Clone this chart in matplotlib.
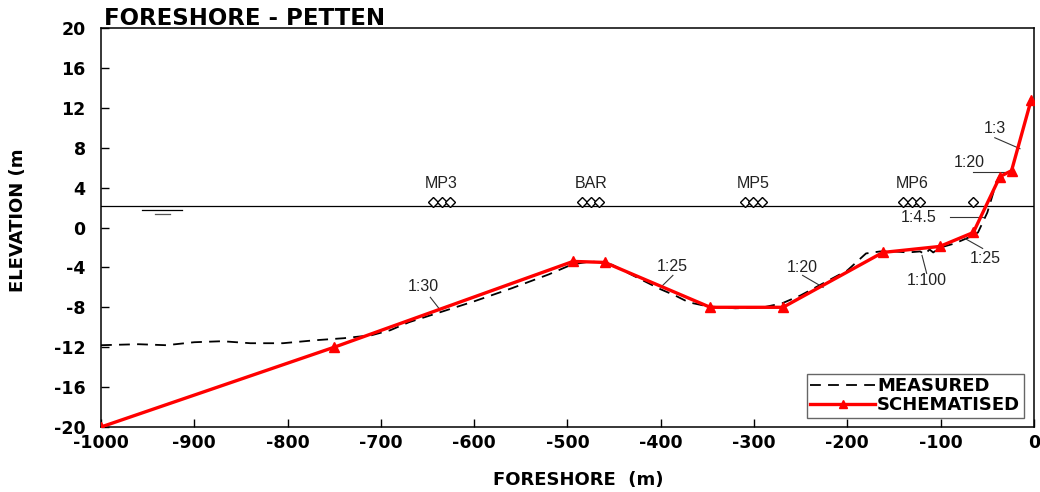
import matplotlib
matplotlib.use("Agg")
import matplotlib.pyplot as plt
from matplotlib.lines import Line2D

plt.rcParams["axes.unicode_minus"] = False

# Schematised foreshore profile (distance m, elevation m)
schem_x = [-1000, -750, -494, -460, -347, -269, -162, -101, -65, -36.5, -24, -3]
schem_y = [-20.0, -12.0, -3.4, -3.5, -8.0, -8.0, -2.5, -1.9, -0.5, 5.1, 5.7, 12.8]

# Measured bed profile
meas_x = [-1000, -960, -930, -900, -870, -840, -805, -770, -740, -710, -690, -670,
          -640, -600, -560, -520, -495, -475, -455, -430, -400, -385, -370, -350,
          -320, -290, -270, -250, -230, -200, -180, -165, -150, -135, -122, -117,
          -112, -108, -100, -85, -70, -60, -50, -40, -32, -25]
meas_y = [-11.8, -11.7, -11.8, -11.5, -11.4, -11.6, -11.6, -11.3, -11.1, -10.8, -10.3, -9.5,
          -8.6, -7.4, -6.1, -4.7, -3.7, -3.4, -3.6, -4.8, -6.2, -6.8, -7.5, -7.9,
          -8.1, -8.0, -7.6, -6.8, -5.8, -4.3, -2.6, -2.4, -2.4, -2.5, -2.4, -2.7,
          -2.2, -2.5, -2.0, -1.6, -1.0, -0.5, 1.5, 4.6, 5.1, 5.5]

# Still water level
swl = 2.2

# Measurement positions
station_names = ["MP3", "BAR", "MP5", "MP6"]
station_x = [[-644, -635, -626], [-484, -475, -466], [-310, -301, -292], [-140, -131, -122]]
single_x = -65.5

# Slope annotations: label, text position, leader line
slope_labels = ["1:30", "1:25", "1:20", "1:100", "1:25", "1:4.5", "1:20", "1:3"]
slope_text = [(-655, -5.9), (-388, -3.9), (-248, -4.0), (-115, -5.3),
              (-52, -3.1), (-124, 1.0), (-69, 6.5), (-42, 9.9)]
slope_lead = [((-647, -637), (-7.0, -8.2)), ((-387, -399), (-4.8, -5.9)),
              ((-248, -226), (-4.8, -6.0)), ((-115, -120), (-4.6, -2.8)),
              ((-55, -74), (-2.1, -1.1)), ((-90, -55), (1.05, 1.05)),
              ((-65.5, -29), (5.6, 5.6)), ((-42, -15), (9.0, 7.9))]

x_ticks = list(range(-1000, 1, 100))
y_ticks = list(range(-20, 21, 4))

fig = plt.figure(figsize=(10.4, 4.92), dpi=100)
ax = fig.add_axes([0.0971, 0.1321, 0.8971, 0.811])

ax.plot(meas_x, meas_y, color="black", lw=1.3, dashes=(6, 4), zorder=3)
ax.plot(schem_x, schem_y, color="#ff0000", lw=2.4, marker="^", ms=7,
        markeredgecolor="#ff0000", zorder=4)

ax.axhline(swl, color="black", lw=0.9, zorder=2)
ax.plot([-956, -913], [1.75, 1.75], color="black", lw=0.9)
ax.plot([-942, -926], [1.35, 1.35], color="#555555", lw=0.9)

for name, xs in zip(station_names, station_x):
    ax.plot(xs, [2.55] * len(xs), ls="none", marker="D", ms=5.5,
            markerfacecolor="white", markeredgecolor="black", mew=1.0, zorder=5)
    ax.text(sum(xs) / len(xs), 4.4, name, ha="center", va="center",
            fontsize=11.5, family="Liberation Sans", color="#222222")
ax.plot([single_x], [2.6], ls="none", marker="D", ms=5.5,
        markerfacecolor="white", markeredgecolor="black", mew=1.0, zorder=5)

for lab, (tx, ty), (lx, ly) in zip(slope_labels, slope_text, slope_lead):
    ax.text(tx, ty, lab, ha="center", va="center", fontsize=11.5,
            family="Liberation Sans", color="#222222")
    ax.plot(lx, ly, color="#333333", lw=0.8, zorder=3)

ax.set_xlim(-1000, 0)
ax.set_ylim(-20, 20)
ax.set_xticks(x_ticks)
ax.set_yticks(y_ticks)
ax.tick_params(direction="in", length=6, width=1, labelsize=12.5,
               top=False, right=False)
ax.tick_params(axis="x", pad=5)
ax.tick_params(axis="y", pad=11)
for lbl in ax.get_xticklabels() + ax.get_yticklabels():
    lbl.set_fontweight("bold")
for sp in ax.spines.values():
    sp.set_linewidth(1.1)

fig.text(0.1, 0.949, "FORESHORE - PETTEN", fontsize=16.5, fontweight="bold",
         ha="left", va="baseline")
fig.text(0.556, 0.025, "FORESHORE  (m)", fontsize=13, fontweight="bold",
         ha="center", va="center")
fig.text(0.017, 0.553, "ELEVATION (m", fontsize=13, fontweight="bold",
         ha="center", va="center", rotation=90)

handles = [Line2D([], [], color="black", lw=1.3, dashes=(6, 4)),
           Line2D([], [], color="#ff0000", lw=2.4, marker="^", ms=6)]
leg = ax.legend(handles, ["MEASURED", "SCHEMATISED"], loc="lower right",
                bbox_to_anchor=(0.993, 0.014), fancybox=False, framealpha=1,
                edgecolor="#666666", prop={"weight": "bold", "size": 13},
                handlelength=3.6, handletextpad=0.1, borderpad=0.2,
                labelspacing=0.05, markerfirst=True, borderaxespad=0.2)
leg.get_frame().set_linewidth(1.0)

fig.savefig("out.png", dpi=100)
